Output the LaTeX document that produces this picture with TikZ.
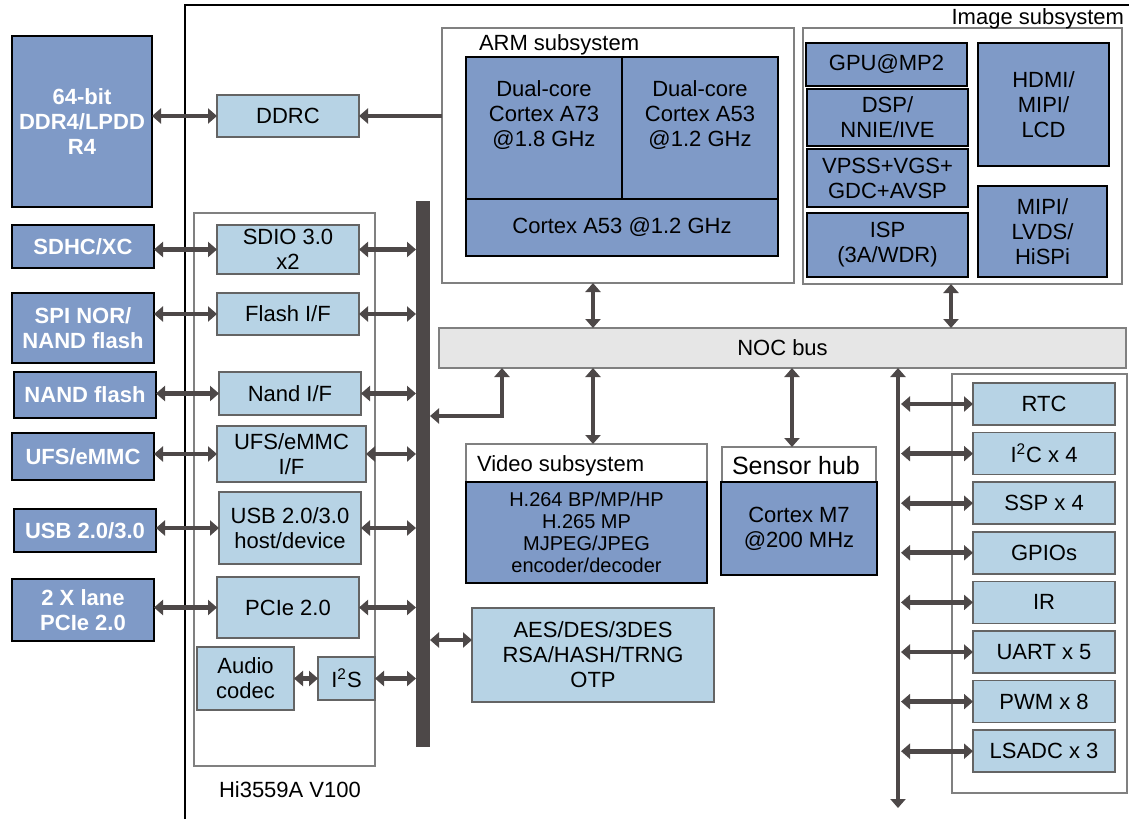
\documentclass[tikz,border=0pt]{standalone}
\usepackage{fontspec}
\setmainfont{Liberation Sans}
\usetikzlibrary{arrows.meta}

\definecolor{extblue}{RGB}{127,154,199}
\definecolor{ifblue}{RGB}{183,211,229}
\definecolor{busgray}{RGB}{230,230,230}
\definecolor{arrowgray}{RGB}{77,72,72}
\definecolor{edgegray}{RGB}{100,100,100}
\definecolor{framegray}{RGB}{128,128,128}

\begin{document}
\begin{tikzpicture}[x=0.5pt, y=-0.5pt,
    font=\fontsize{11}{12.5}\selectfont,
    every node/.style={inner sep=0pt, outer sep=0pt},
    sz/.style 2 args={minimum width=#1*0.5pt, minimum height=#2*0.5pt},
    ext/.style={draw=black, line width=1pt, fill=extblue, text=white, align=center,
      font=\fontsize{11}{12.5}\selectfont\bfseries},
    ifbox/.style={draw=edgegray, line width=0.8pt, fill=ifblue, align=center},
    core/.style={draw=black, line width=0.9pt, fill=extblue, align=center},
    frame/.style={draw=framegray, line width=0.75pt, fill=white},
    >={Triangle[width=7.5pt,length=4.5pt]},
    conn/.style={draw=arrowgray, line width=2.4pt, <->},
    conn1/.style={draw=arrowgray, line width=2.4pt, ->},
    rbus/.style={draw=arrowgray, line width=2pt, <->}]

  \useasboundingbox (0,0) rectangle (1129,819);

  % chip outline
  \draw[line width=0.75pt] (185,819) -- (185,5) -- (1129,5);
  \node[anchor=west] (CHIP) at (219,790) {Hi3559A V100};

  \node[frame, sz={181}{553}] (PERI) at (284.5,489.5) {};
  \node[frame, sz={352}{255}] (ARM) at (618,155.5) {};
  \node[frame, sz={319}{256}] (IMG) at (962.5,156) {};
  \node[frame, sz={175}{419}] (LS) at (1039.5,583.5) {};
  \node[anchor=west] (ARMl) at (479,45) {ARM subsystem};
  \node[anchor=east] (IMGl) at (1124,19) {Image subsystem};

  \node[draw=framegray, line width=0.75pt, fill=busgray, sz={687}{40}] (NOC) at (782.5,348) {NOC bus};
  \node[fill=arrowgray, sz={14}{546}] (BAR) at (423,474) {};

  % external devices
  \node[ext, sz={140}{171}] (DDR) at (82,121.5) {64-bit\\DDR4/LPDD\\R4};
  \node[ext, sz={142}{43}] (SDHC) at (83,246.5) {SDHC/XC};
  \node[ext, sz={142}{70}] (SPI) at (83,328) {SPI NOR/\\NAND flash};
  \node[ext, sz={142}{46}] (NANDX) at (85,395) {NAND flash};
  \node[ext, sz={142}{47}] (UFSX) at (83,456.5) {UFS/eMMC};
  \node[ext, sz={142}{43}] (USBX) at (85,530.5) {USB 2.0/3.0};
  \node[ext, sz={142}{62}] (PCIEX) at (83,610) {2 X lane\\PCIe 2.0};

  % interfaces
  \node[ifbox, sz={142}{42}] (DDRC) at (288,116) {DDRC};
  \node[ifbox, sz={142}{49}] (SDIO) at (288,249.5) {SDIO 3.0\\x2};
  \node[ifbox, sz={142}{42}] (FLASH) at (288,314) {Flash I/F};
  \node[ifbox, sz={142}{43}] (NANDIF) at (290,393.5) {Nand I/F};
  \node[ifbox, sz={149}{56}] (UFSIF) at (291.5,454) {UFS/eMMC\\I/F};
  \node[ifbox, sz={142}{72}] (USBIF) at (290,528) {USB 2.0/3.0\\host/device};
  \node[ifbox, sz={142}{61}] (PCIEIF) at (288,607.5) {PCIe 2.0};
  \node[ifbox, sz={97}{63}] (AUDIO) at (245.5,678.5) {Audio\\codec};
  \node[ifbox, sz={57}{43}] (I2S) at (346.5,678.5) {I\textsuperscript{2}S};
  \node[ifbox, sz={242}{94}] (CRYPTO) at (593,655) {AES/DES/3DES\\RSA/HASH/TRNG\\OTP};

  % ARM cores
  \node[core, sz={156}{142}] (A73) at (544,128) {};
  \node[core, sz={156}{142}] (A53D) at (700,128) {};
  \node[core, sz={312}{57}] (A53) at (622,227.5) {Cortex A53 @1.2 GHz};
  \node[align=center] (A73t) at (544,115) {Dual-core\\Cortex A73\\@1.8 GHz};
  \node[align=center] (A53Dt) at (700,115) {Dual-core\\Cortex A53\\@1.2 GHz};

  % image blocks
  \node[core, sz={161}{43}] (GPU) at (886.5,64.5) {GPU@MP2};
  \node[core, sz={161}{57}] (DSP) at (887.5,117.5) {DSP/\\NNIE/IVE};
  \node[core, sz={161}{58}] (VPSS) at (887.5,178) {VPSS+VGS+\\GDC+AVSP};
  \node[core, sz={161}{64}] (ISP) at (887.5,245) {ISP\\(3A/WDR)};
  \node[core, sz={131}{123}] (HDMI) at (1043.5,104.5) {HDMI/\\MIPI/\\LCD};
  \node[core, sz={129}{91}] (MIPI) at (1042.5,231.5) {MIPI/\\LVDS/\\HiSPi};

  % video, sensor hub
  \node[frame, sz={241}{38}] (VHEAD) at (586.5,463) {};
  \node[anchor=west] (VHEADl) at (477,466) {Video subsystem};
  \node[core, sz={241}{101}, font=\fontsize{10}{11}\selectfont] (VBODY) at (586.5,532.5)
    {H.264 BP/MP/HP\\H.265 MP\\MJPEG/JPEG\\encoder/decoder};
  \node[frame, sz={154}{35}] (SHEAD) at (799,464.5) {};
  \node[anchor=west][font=\fontsize{12.5}{14}\selectfont] (SHEADl) at (732,466) {Sensor hub};
  \node[core, sz={156}{93}] (SBODY) at (799,528.5) {Cortex M7\\@200 MHz};

  \coordinate (TV) at (593,0);
  \coordinate (TS) at (792,0);
  \coordinate (TI) at (951,0);
  \coordinate (TB) at (502,416);
  \coordinate (TR) at (898,808);

  \draw[conn] (DDRC.west -| DDR.east) -- (DDRC.west);
  \draw[conn1] (DDRC.east -| ARM.west) -- (DDRC.east);
  \foreach \a/\b in {SDHC/SDIO, SPI/FLASH, NANDX/NANDIF, UFSX/UFSIF, USBX/USBIF, PCIEX/PCIEIF} {
    \draw[conn] (\b.west -| \a.east) -- (\b.west);
    \draw[conn] (\b.east) -- (\b.east -| BAR.west);
  }
  \draw[conn] (AUDIO.east |- I2S.west) -- (I2S.west);
  \draw[conn] (I2S.east) -- (I2S.east -| BAR.west);
  \draw[conn] ([yshift=7.5pt]CRYPTO.west) -- ([yshift=7.5pt]CRYPTO.west -| BAR.east);

  \draw[conn] (ARM.south -| TV) -- (NOC.north -| TV);
  \draw[conn] (IMG.south -| TI) -- (NOC.north -| TI);
  \draw[conn] (NOC.south -| TV) -- (VHEAD.north -| TV);
  \draw[conn] (NOC.south -| TS) -- (SHEAD.north -| TS);
  \draw[conn] (NOC.south -| TB) -- (TB) -- (TB -| BAR.east);
  \draw[rbus] (NOC.south -| TR) -- (TR);

  % low speed peripherals
  \foreach \name/\txt [count=\i from 0] in {RTC/RTC, I2C/I\textsuperscript{2}C x 4, SSP/SSP x 4,
      GPIO/GPIOs, IR/IR, UART/UART x 5, PWM/PWM x 8, ADC/LSADC x 3} {
    \node[ifbox, sz={142}{42}] (\name) at (1044,404+\i*49.6) {\txt};
    \draw[conn] (\name.west) -- ([xshift=1.5pt]\name.west -| TR);
  }
\end{tikzpicture}
\end{document}
